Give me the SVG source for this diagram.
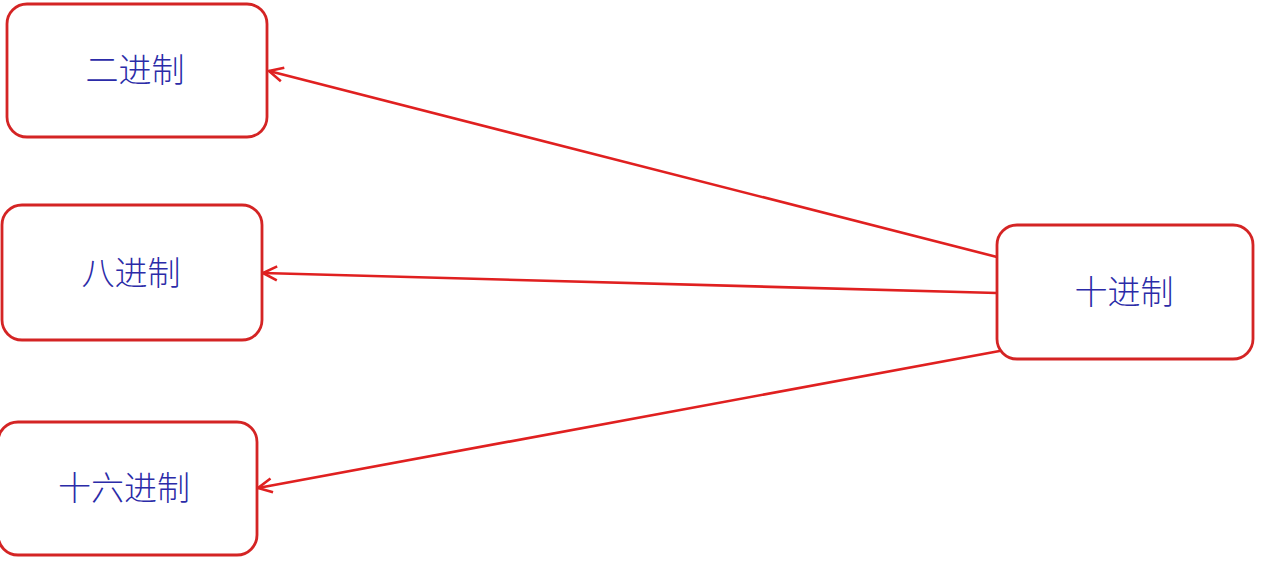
<svg xmlns="http://www.w3.org/2000/svg" width="1280" height="570" viewBox="0 0 1280 570">
<style>
.box{fill:#fff;stroke:#d42424;stroke-width:2.8}
.lbl{font-family:"Noto Sans CJK SC","Noto Sans",sans-serif;font-size:33px;font-weight:300;fill:#2b2ba8;text-anchor:middle;dominant-baseline:central}
.edge{stroke:#e02020;stroke-width:2.6;fill:none;marker-end:url(#arr)}
</style>
<defs>
<marker id="arr" viewBox="0 0 20 20" refX="18" refY="10" markerWidth="20" markerHeight="20" markerUnits="userSpaceOnUse" orient="auto">
<polyline points="4,3 18,10 4,17" fill="none" stroke="#e02020" stroke-width="2.6"/>
</marker>
</defs>
<rect width="1280" height="570" fill="#fff"/>
<g id="connectors">
<line class="edge" x1="997" y1="257" x2="269" y2="71"/>
<line class="edge" x1="997" y1="293" x2="263" y2="273"/>
<line class="edge" x1="1005" y1="350" x2="258" y2="488"/>
</g>
<g id="n_bin">
<rect class="box" x="7" y="4" width="260" height="133" rx="20"/>
<text class="lbl" x="135" y="68">二进制</text>
</g>
<g id="n_oct">
<rect class="box" x="2" y="205" width="260" height="135" rx="20"/>
<text class="lbl" x="131" y="271">八进制</text>
</g>
<g id="n_hex">
<rect class="box" x="-2" y="422" width="259" height="133" rx="20"/>
<text class="lbl" x="124" y="486">十六进制</text>
</g>
<g id="n_dec">
<rect class="box" x="997" y="225" width="256" height="134" rx="20"/>
<text class="lbl" x="1124" y="290">十进制</text>
</g>
</svg>
